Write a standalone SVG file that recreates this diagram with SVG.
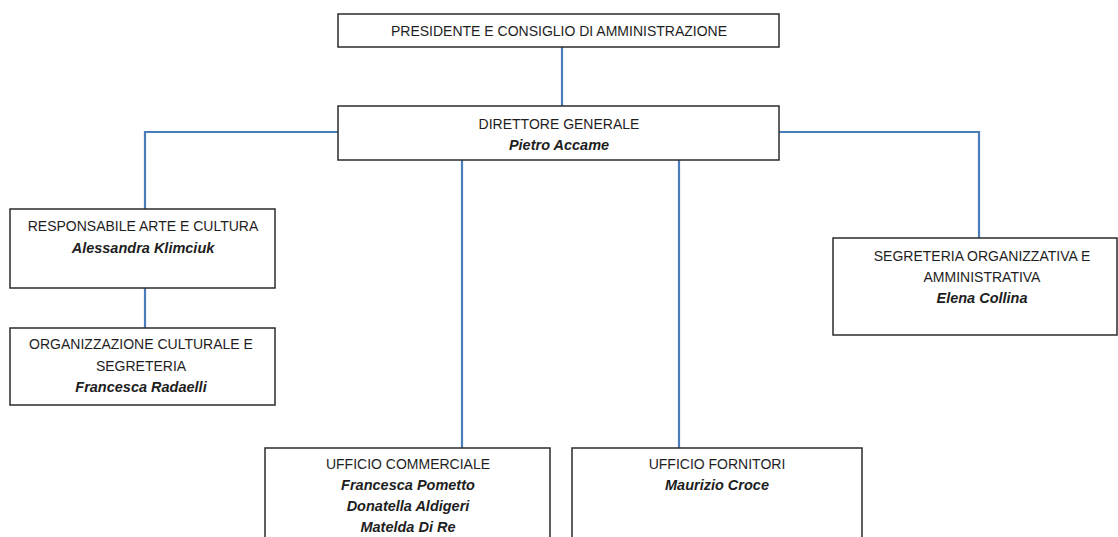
<svg xmlns="http://www.w3.org/2000/svg" width="1118" height="537" viewBox="0 0 1118 537">
<style>
.box{fill:#fff;stroke:#2b2b2b;stroke-width:1.5}
.t{font-family:"Liberation Sans",Arial,sans-serif;font-size:14px;fill:#1e1e1e;text-anchor:middle}
.n{font-weight:bold;font-style:italic;font-size:14.5px}
.c{fill:none;stroke:#4a7ebb;stroke-width:2.2}
</style>
<rect width="1118" height="537" fill="#fff"/>
<g id="connectors">
<line class="c" x1="562" y1="47" x2="562" y2="106"/>
<polyline class="c" points="338,132 145,132 145,209"/>
<polyline class="c" points="779,132 979,132 979,238"/>
<line class="c" x1="145" y1="288" x2="145" y2="328"/>
<line class="c" x1="462" y1="160" x2="462" y2="448"/>
<line class="c" x1="679" y1="160" x2="679" y2="448"/>
</g>
<g id="presidente">
<rect class="box" x="338" y="14" width="441" height="33"/>
<text class="t" x="559" y="36">PRESIDENTE E CONSIGLIO DI AMMINISTRAZIONE</text>
</g>
<g id="direttore">
<rect class="box" x="338" y="106" width="441" height="54"/>
<text class="t" x="559" y="129">DIRETTORE GENERALE</text>
<text class="t n" x="559" y="150">Pietro Accame</text>
</g>
<g id="arte">
<rect class="box" x="10" y="209" width="265" height="79"/>
<text class="t" x="143" y="231">RESPONSABILE ARTE E CULTURA</text>
<text class="t n" x="143" y="253">Alessandra Klimciuk</text>
</g>
<g id="organizzazione">
<rect class="box" x="10" y="328" width="265" height="77"/>
<text class="t" x="141" y="349">ORGANIZZAZIONE CULTURALE E</text>
<text class="t" x="141" y="371">SEGRETERIA</text>
<text class="t n" x="141" y="392">Francesca Radaelli</text>
</g>
<g id="segreteria">
<rect class="box" x="833" y="238" width="284" height="97"/>
<text class="t" x="982" y="261">SEGRETERIA ORGANIZZATIVA E</text>
<text class="t" x="982" y="282">AMMINISTRATIVA</text>
<text class="t n" x="982" y="303">Elena Collina</text>
</g>
<g id="commerciale">
<rect class="box" x="265" y="448" width="285" height="95"/>
<text class="t" x="408" y="469">UFFICIO COMMERCIALE</text>
<text class="t n" x="408" y="490">Francesca Pometto</text>
<text class="t n" x="408" y="511">Donatella Aldigeri</text>
<text class="t n" x="408" y="532">Matelda Di Re</text>
</g>
<g id="fornitori">
<rect class="box" x="572" y="448" width="290" height="95"/>
<text class="t" x="717" y="469">UFFICIO FORNITORI</text>
<text class="t n" x="717" y="490">Maurizio Croce</text>
</g>
</svg>
